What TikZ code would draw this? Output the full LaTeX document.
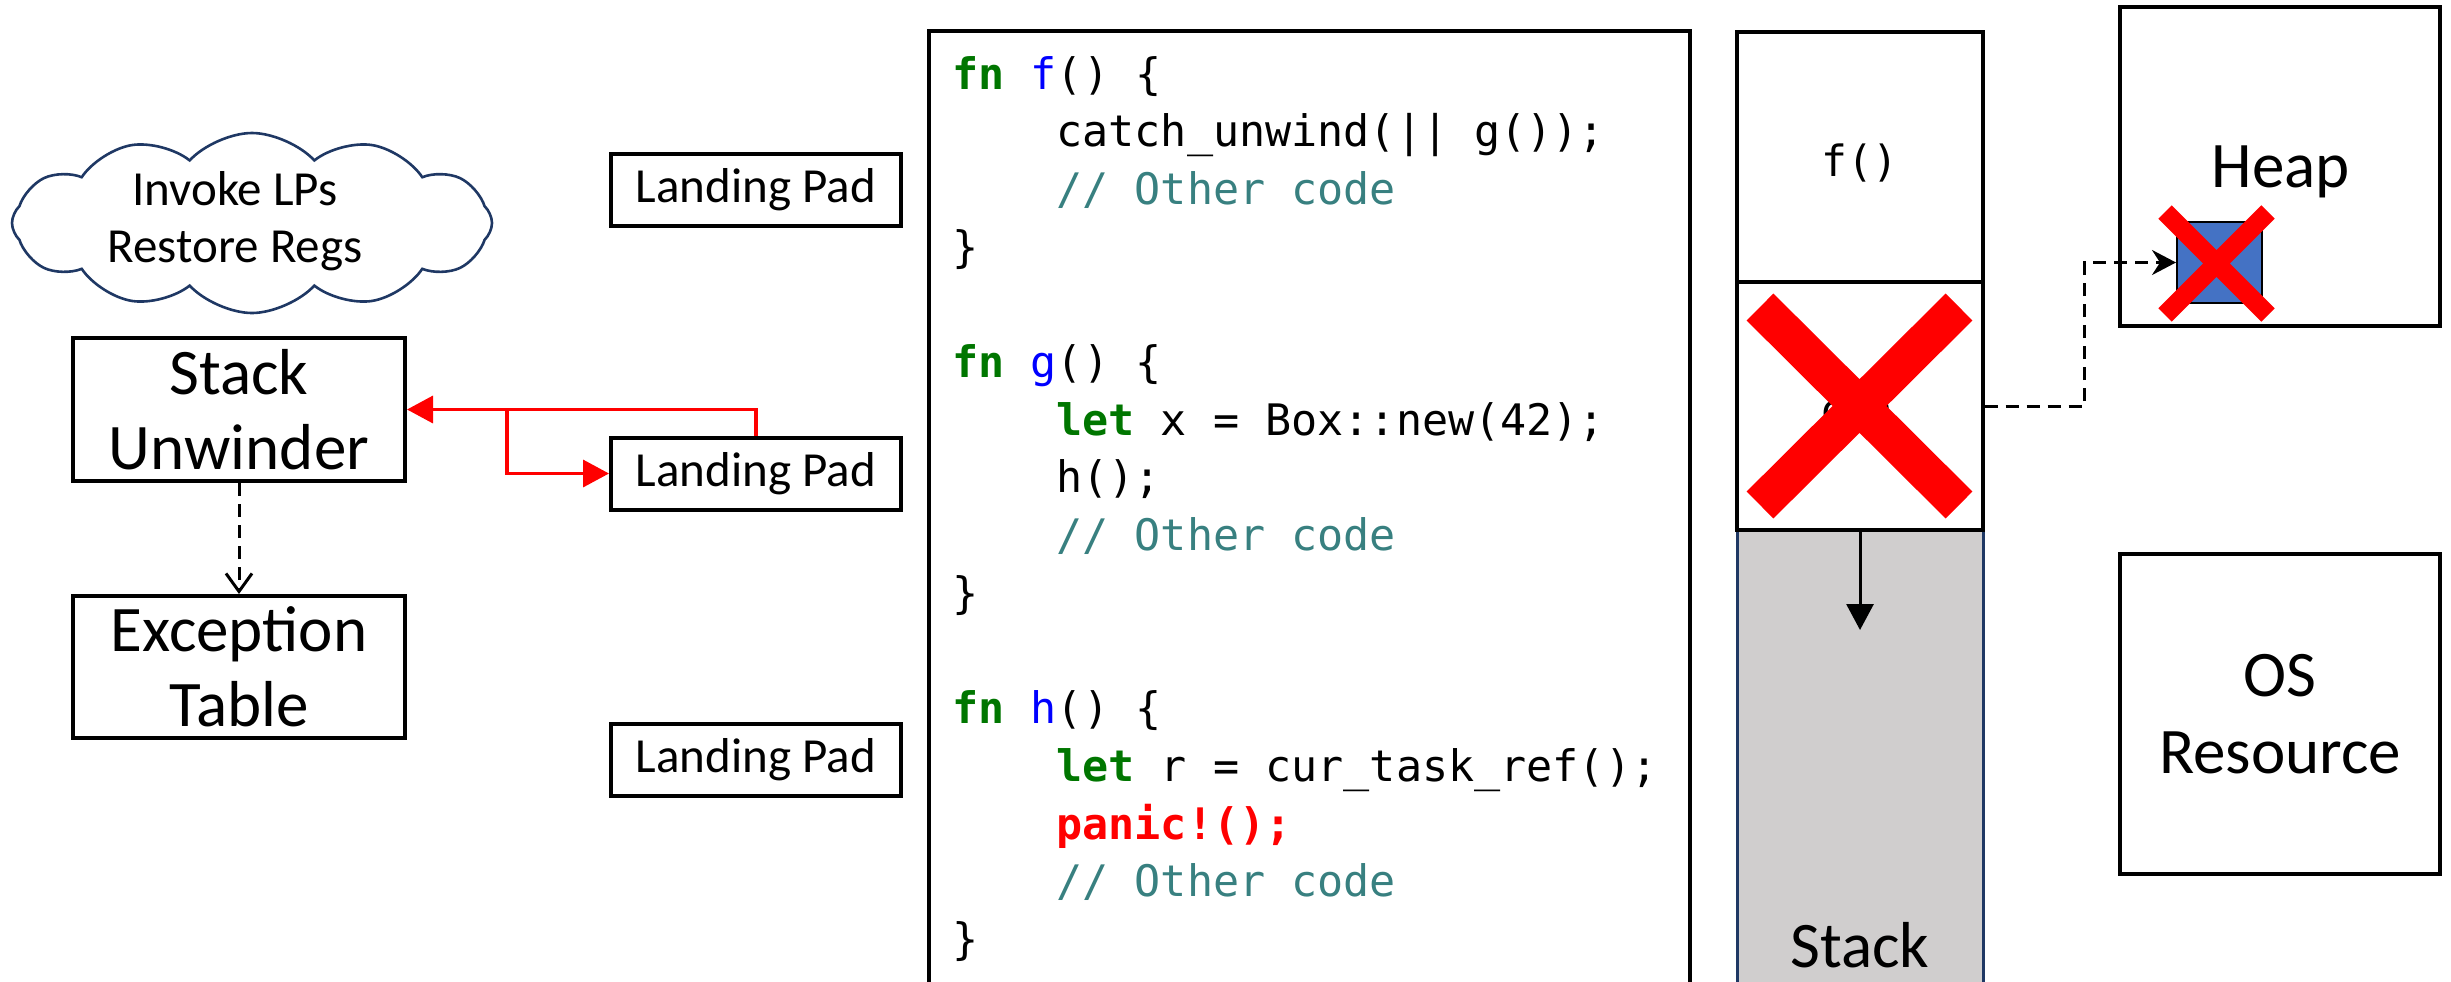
\documentclass[tikz,border=0pt]{standalone}
\usepackage{fontspec}
\setmainfont{Carlito}
\setmonofont{DejaVu Sans Mono}
\usetikzlibrary{shapes.symbols,arrows.meta}
\definecolor{kwgreen}{RGB}{0,118,0}
\definecolor{fnblue}{RGB}{0,0,255}
\definecolor{cmtteal}{RGB}{56,128,128}
\definecolor{panicred}{RGB}{255,0,0}
\definecolor{cloudnavy}{RGB}{31,56,100}
\definecolor{stackgray}{RGB}{208,206,206}
\definecolor{heapblue}{RGB}{68,114,196}
\newcommand\kw[1]{\textcolor{kwgreen}{\bfseries #1}}
\newcommand\fname[1]{\textcolor{fnblue}{#1}}
\newcommand\cmt[1]{\textcolor{cmtteal}{#1}}
\frenchspacing
\begin{document}
\begin{tikzpicture}[x=0.5pt,y=-0.5pt,
  box/.style={draw, line width=2pt, inner sep=0pt, align=center},
  bigtext/.style={font=\fontsize{32.5pt}{37.5pt}\selectfont},
  lptext/.style={font=\fontsize{24.5pt}{28.5pt}\selectfont},
  lpbox/.style={box, lptext, minimum width=145pt, minimum height=36pt},
  codeline/.style={anchor=base west, inner sep=0pt, font=\ttfamily\fontsize{21.7pt}{26pt}\selectfont},
  monolabel/.style={anchor=base, inner sep=0pt, font=\ttfamily\fontsize{21.5pt}{24pt}\selectfont},
  redarrow/.style={draw=red, line width=1.75pt, -{Triangle[length=13pt,width=13.5pt]}},
  dasharrow/.style={line width=1.5pt, dash pattern=on 6.5pt off 4pt},
  cross/.style={draw=red, line cap=butt},
]
\useasboundingbox (0,0) rectangle (2451,981);
\clip (0,0) rectangle (2451,981);

% --- unwinder side ---
\node[cloud, draw=cloudnavy, line width=1.3pt, cloud puffs=12, cloud puff arc=95,
      aspect=2.7, minimum width=240pt, minimum height=90pt, inner sep=0pt] (cloud) at (252,223) {};
\node[lptext, align=center, inner sep=0pt] (cloudtxt) at (235,221) {Invoke LPs\\Restore Regs};

\node[box, bigtext, minimum width=166pt, minimum height=71.5pt] (unw) at (239,409.5) {Stack\\Unwinder};
\node[box, bigtext, minimum width=166pt, minimum height=71pt] (exc) at (239,667) {Exception\\Table};
\draw[dasharrow, -{Straight Barb[length=9pt,width=13pt]}] (unw) -- (exc);

% --- landing pads ---
\node[lpbox] (lp1) at (756,190) {Landing Pad};
\node[lpbox] (lp2) at (756,473.5) {Landing Pad};
\node[lpbox] (lp3) at (756,760) {Landing Pad};

\draw[redarrow] (lp2.north) |- (unw.east);
\coordinate (split) at (507,0);
\draw[redarrow] (unw.east -| split) |- (lp2.west);

% --- source code panel ---
\draw[line width=1.75pt] (929,1000) -- (929,31) -- (1690,31) -- (1690,1000);
\node[codeline] (c1)  at (952,89)     {\kw{fn} \fname{f}() \{};
\node[codeline] (c2)  at (1056,146.7) {catch\_unwind(|| g());};
\node[codeline] (c3)  at (1056,204.4) {\cmt{// Other code}};
\node[codeline] (c4)  at (952,262.1)  {\}};
\node[codeline] (c6)  at (952,377.5)  {\kw{fn} \fname{g}() \{};
\node[codeline] (c7)  at (1056,435.2) {\kw{let} x = Box::new(42);};
\node[codeline] (c8)  at (1056,492.9) {h();};
\node[codeline] (c9)  at (1056,550.6) {\cmt{// Other code}};
\node[codeline] (c10) at (952,608.3)  {\}};
\node[codeline] (c12) at (952,723.7)  {\kw{fn} \fname{h}() \{};
\node[codeline] (c13) at (1056,781.4) {\kw{let} r = cur\_task\_ref();};
\node[codeline] (c14) at (1056,839.1) {{\color{panicred}\bfseries panic!();}};
\node[codeline] (c15) at (1056,896.8) {\cmt{// Other code}};
\node[codeline] (c16) at (952,954.5)  {\}};

% --- stack ---
\fill[stackgray] (1737,530) rectangle (1983,1000);
\draw[cloudnavy, line width=1.5pt] (1737,530) -- (1737,1000) (1983,530) -- (1983,1000);
\node[box, line width=1.6pt, minimum width=123pt, minimum height=125pt] (sf) at (1860,157) {};
\node[box, line width=1.6pt, minimum width=123pt, minimum height=124pt] (sg) at (1860,406) {};
\node[monolabel] (ftxt) at (1860,176) {f()};
\node[monolabel] (gtxt) at (1860,425) {g()};
\draw[cross, line width=19pt] (1760,307) -- (1959,505) (1760,505) -- (1959,307);
\coordinate (grow) at (1860,630);
\draw[line width=1.5pt, -{Triangle[length=13pt,width=13.5pt]}] (sg.south) -- (grow);
\node[bigtext, anchor=base, inner sep=0pt] (stacktxt) at (1860,967) {Stack};

% --- heap and OS resource ---
\node[box, minimum width=160pt, minimum height=159.5pt] (heap) at (2280,166.5) {};
\node[bigtext, anchor=base, inner sep=0pt] (heaptxt) at (2281,187) {Heap};
\node[draw, fill=heapblue, line width=1pt, minimum width=42.5pt, minimum height=40.5pt, inner sep=0pt] (obj) at (2219.5,262.5) {};
\draw[dasharrow, -{Stealth[length=12pt,width=12.5pt,inset=4pt]}] (sg.east) -- ++(100,0) |- (obj.west);
\draw[cross, line width=9.5pt] (2165,212) -- (2268,315) (2165,315) -- (2268,212);

\node[box, bigtext, minimum width=160pt, minimum height=160pt, font=\fontsize{32.5pt}{38.5pt}\selectfont] (os) at (2280,714) {OS\\Resource};
\end{tikzpicture}
\end{document}
